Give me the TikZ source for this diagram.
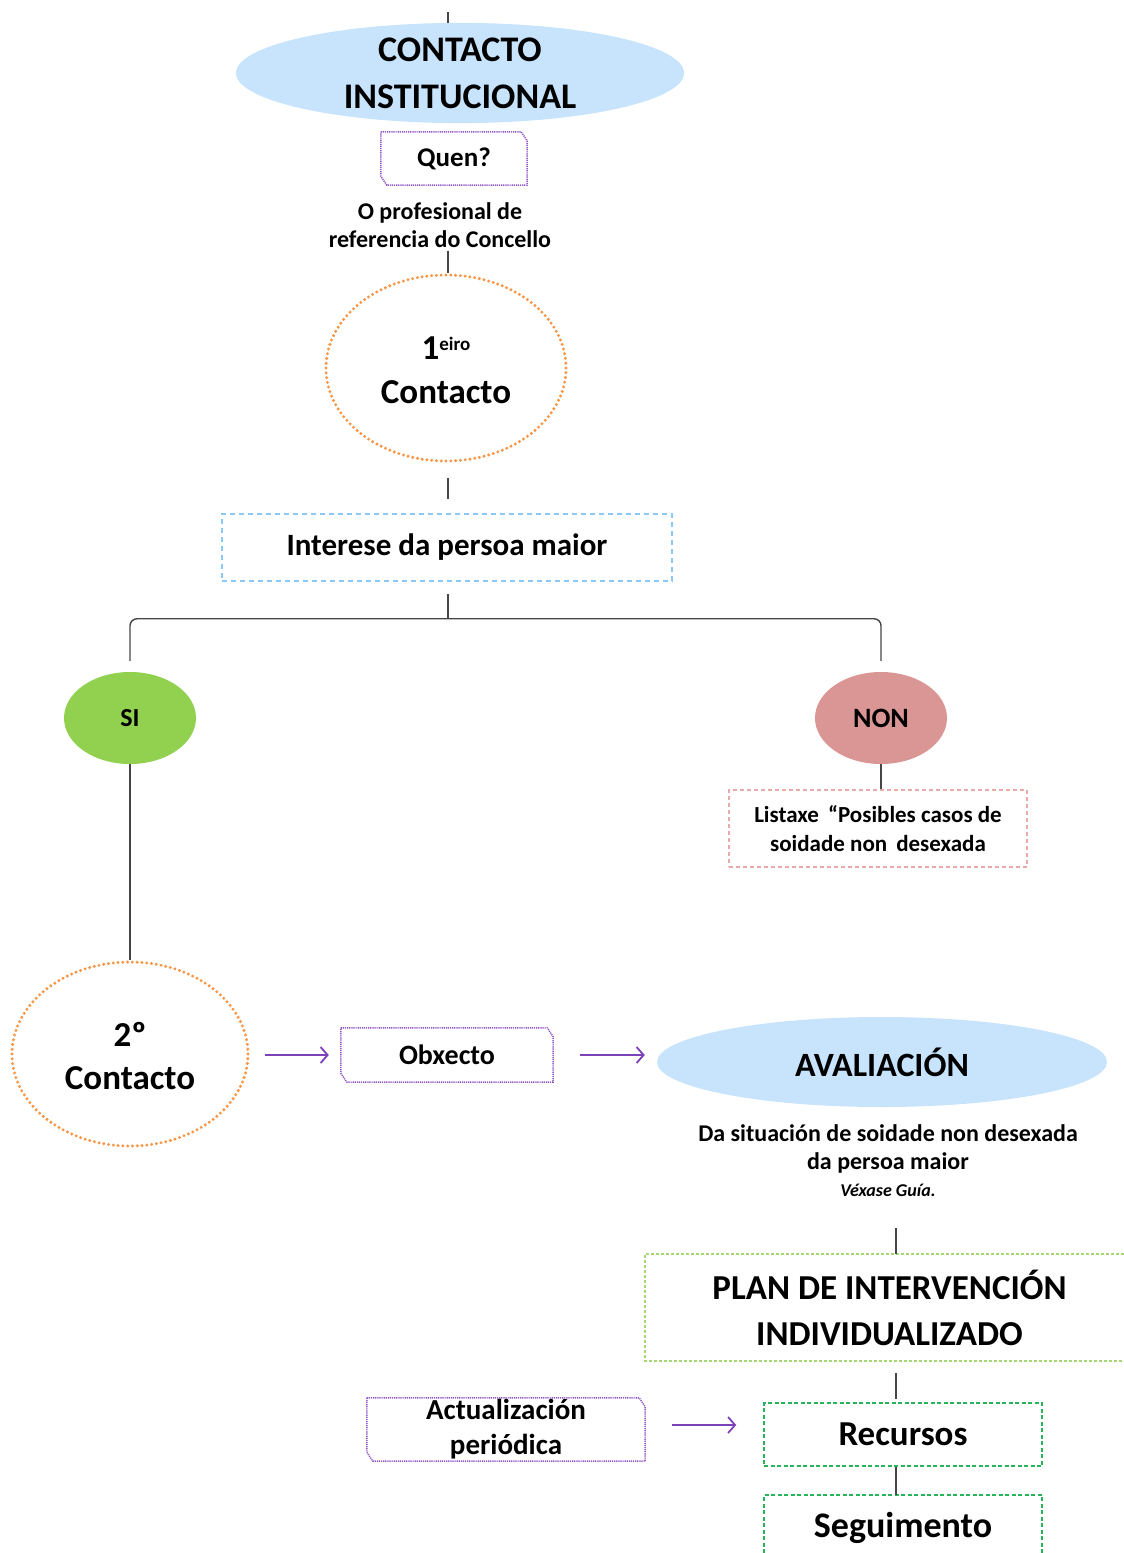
\documentclass[tikz,border=0pt]{standalone}
\usepackage{fontspec}
\setmainfont{Carlito}
\usetikzlibrary{shapes.geometric,arrows.meta}
\definecolor{eblue}{RGB}{200,228,252}
\definecolor{orng}{RGB}{247,150,70}
\definecolor{lblue}{RGB}{140,200,245}
\definecolor{purp}{RGB}{145,85,195}
\definecolor{sigreen}{RGB}{146,208,80}
\definecolor{nonred}{RGB}{217,150,148}
\definecolor{pinkd}{RGB}{232,170,170}
\definecolor{lgreen}{RGB}{165,215,115}
\definecolor{dgreen}{RGB}{40,180,90}
\definecolor{arrp}{RGB}{125,65,185}
\definecolor{lgray}{RGB}{70,70,70}
\newcommand{\fsz}[2]{\fontsize{#1}{#2}\selectfont\bfseries}
\newcommand{\snipframe}[1]{\draw[purpdot] (#1.north west) -- ([xshift=-6pt]#1.north east) -- ([yshift=-9pt]#1.north east) -- (#1.south east) -- ([xshift=6pt]#1.south west) -- ([yshift=9pt]#1.south west) -- cycle;}
\tikzset{
  conn/.style={draw=lgray, line width=1.4pt},
  arr/.style={draw=arrp, line width=1.8pt, -{Straight Barb[length=7pt,width=16pt]}},
  purpdot/.style={draw=purp, line width=1.5pt, dash pattern=on 1.2pt off 0.9pt},
  orangedot/.style={draw=orng, line width=3.3pt, dash pattern=on 0pt off 4.8pt, line cap=round},
  ell/.style={ellipse, inner sep=0pt, align=center},
  box/.style={rectangle, inner sep=0pt, align=center},
  txt/.style={inner sep=0pt, align=center}
}
\begin{document}
\begin{tikzpicture}[x=1pt,y=-1pt]
\useasboundingbox (0,0) rectangle (1124,1553);

% top
\coordinate (top) at (448,12);
\node[ell, fill=eblue, minimum width=448pt, minimum height=90pt, font=\fsz{36}{47}] (ci) at (460,73) {CONTACTO\\INSTITUCIONAL};
\draw[conn] (top) -- (ci.north -| top);

\node[box, minimum width=146pt, minimum height=53pt, font=\fsz{27}{30}] (quen) at (454,158.5) {Quen?};
\snipframe{quen}

\node[txt, font=\fsz{24}{28}] (prof) at (440,225) {O profesional de\\referencia do Concello};

\node[ell, orangedot, minimum width=240pt, minimum height=186pt] (c1) at (446,368) {};
\node[txt, font=\fsz{35}{44}] (c1t) at (446,370) {1\raisebox{9pt}{\fsz{19}{19}eiro}\\Contacto};
\draw[conn] ([yshift=-3pt]prof.south -| top) -- (c1.north -| top);

\node[box, draw=lblue, line width=1.5pt, dash pattern=on 5pt off 4pt, minimum width=450pt, minimum height=67pt, font=\fsz{31}{36}] (int) at (447,547.5) {Interese da persoa maior};
\draw[conn] ([yshift=-15pt]c1.south -| top) -- ([yshift=14pt]int.north -| top);

% branches
\node[ell, fill=sigreen, minimum width=132pt, minimum height=92pt, font=\fsz{26}{28}] (si) at (130,718) {SI};
\node[ell, fill=nonred, minimum width=132pt, minimum height=92pt, font=\fsz{28}{30}] (non) at (881,718) {NON};
\draw[conn] ([yshift=-12pt]int.south -| top) -- ++(0,25) coordinate (bm);
\draw[conn, rounded corners=7pt] ([yshift=11pt]si.north) -- (si.north |- bm) -- (non.north |- bm) -- ([yshift=11pt]non.north);

\node[box, draw=pinkd, line width=2pt, dash pattern=on 4pt off 3pt, minimum width=298pt, minimum height=77pt, font=\fsz{23}{29}] (lst) at (878,828.5) {Listaxe \,“Posibles casos de\\soidade non \,desexada};
\draw[conn] (non.south) -- (non.south |- lst.north);

% second contact
\node[ell, orangedot, minimum width=236pt, minimum height=184pt] (c2) at (130,1054) {};
\node[txt, font=\fsz{35}{43}] (c2t) at (130,1056) {2º\\Contacto};
\draw[conn] (si.south) -- (c2.north);

\node[box, minimum width=212pt, minimum height=54pt, font=\fsz{28}{30}] (obx) at (447,1055) {Obxecto};
\snipframe{obx}
\draw[arr] ([xshift=15pt]c2.east |- obx.west) -- ([xshift=-12pt]obx.west);

\node[ell, fill=eblue, minimum width=450pt, minimum height=90pt, font=\fsz{34}{38}] (av) at (882,1062) {AVALIACIÓN};
\draw[arr] ([xshift=27pt]obx.east) -- ([xshift=-12pt]av.west |- obx.east);

\node[txt, font=\fsz{24}{26}] (d1) at (888,1133) {Da situación de soidade non desexada};
\node[txt, font=\fsz{24}{26}] (d2) at (888,1163) {da persoa maior};
\node[txt, font=\fsz{18}{20}\itshape] (d3) at (888,1190) {Véxase Guía.};

% plan
\coordinate (lx) at (896,1228);
\node[box, minimum width=489pt, minimum height=107pt, font=\fsz{35}{46}] (plan) at (889.5,1307.5) {PLAN DE INTERVENCIÓN\\INDIVIDUALIZADO};
\draw[draw=lgreen, line width=1.5pt, dash pattern=on 3pt off 2pt] (1124,1254) -- (645,1254) -- (645,1361) -- (1124,1361);
\draw[conn] (lx) -- (lx |- plan.north);

\node[box, draw=dgreen, line width=1.5pt, dash pattern=on 4pt off 2.5pt, minimum width=278pt, minimum height=63pt, font=\fsz{35}{38}] (rec) at (903,1434.5) {Recursos};
\draw[conn] ([yshift=-12pt]plan.south -| lx) -- ([yshift=3pt]rec.north -| lx);

\node[box, minimum width=278pt, minimum height=63pt, font=\fsz{29}{35}] (act) at (506,1429.5) {Actualización\\periódica};
\snipframe{act}
\draw[arr] ([xshift=27pt]act.east |- 0,1425) -- ([xshift=-27pt]rec.west |- 0,1425);

\node[box, minimum width=278pt, minimum height=64pt, font=\fsz{36}{38}] (seg) at (903,1528) {Seguimento};
\draw[draw=dgreen, line width=1.5pt, dash pattern=on 4pt off 2.5pt] (764,1553) -- (764,1495) -- (1042,1495) -- (1042,1553);
\draw[conn] (rec.south -| lx) -- (lx |- 0,1495);
\end{tikzpicture}
\end{document}
